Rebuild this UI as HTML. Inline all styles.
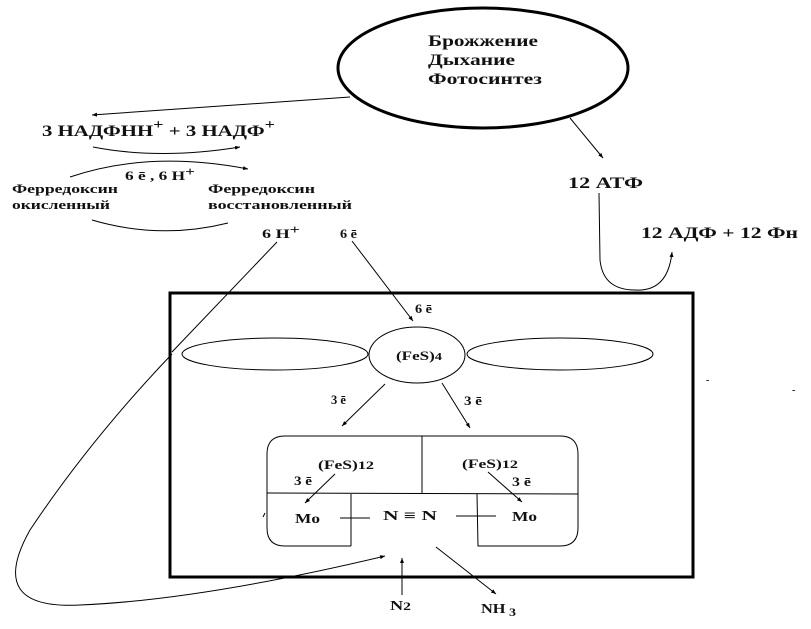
<!DOCTYPE html>
<html><head><meta charset="utf-8"><style>
html,body{margin:0;padding:0;background:#fff;width:811px;height:629px;overflow:hidden}
svg{display:block}
text{font-family:"Liberation Serif",serif;font-weight:bold;fill:#111}
</style></head><body>
<svg width="811" height="629" viewBox="0 0 811 629" xmlns="http://www.w3.org/2000/svg">
<defs><marker id="a" markerWidth="6" markerHeight="6" refX="5" refY="3" orient="auto"><path d="M0,1 L5,3 L0,5 z" fill="#000"/></marker></defs>
<g fill="none" stroke="#000" stroke-width="1">
<ellipse cx="483" cy="68" rx="145" ry="60" stroke-width="3"/>
<line x1="350" y1="97" x2="92" y2="115" marker-end="url(#a)"/>
<line x1="570" y1="118" x2="603" y2="158" marker-end="url(#a)"/>
<path d="M93,147 Q160,160 240,147" marker-end="url(#a)"/>
<path d="M70,177 Q150,150 248,169" marker-end="url(#a)"/>
<path d="M228,223 Q160,240 92,220"/>
<path d="M599,193 L600,260 Q603,290 635,290 Q668,292 672,252" marker-end="url(#a)"/>
<rect x="170" y="293" width="523" height="284" stroke-width="3"/>
<line x1="277" y1="242" x2="172" y2="352"/>
<line x1="352" y1="241" x2="413" y2="321" marker-end="url(#a)"/>
<ellipse cx="275" cy="354" rx="93" ry="16"/>
<ellipse cx="417" cy="355" rx="48" ry="28"/>
<ellipse cx="560" cy="354" rx="93" ry="16"/>
<line x1="385" y1="384" x2="342" y2="426" marker-end="url(#a)"/>
<line x1="442" y1="383" x2="470" y2="428" marker-end="url(#a)"/>
<path d="M351,546 L285,546 Q267,546 267,528 L267,454 Q267,436 285,436 L560,436 Q578,436 578,454 L578,528 Q578,546 560,546 L478,546 L477,494"/>
<line x1="351" y1="494" x2="351" y2="546"/>
<line x1="267" y1="493" x2="578" y2="494"/>
<line x1="422" y1="436" x2="422" y2="493"/>
<line x1="340" y1="518" x2="370" y2="518"/>
<line x1="456" y1="516" x2="496" y2="516"/>
<line x1="335" y1="474" x2="305" y2="503" marker-end="url(#a)"/>
<line x1="488" y1="472" x2="522" y2="502" marker-end="url(#a)"/>
<line x1="402" y1="595" x2="402" y2="558" marker-end="url(#a)"/>
<line x1="436" y1="547" x2="496" y2="594" marker-end="url(#a)"/>
<path d="M172,354 Q90,440 30,530 Q-15,610 80,605 Q200,600 385,556" marker-end="url(#a)"/>
<line x1="265" y1="513" x2="263" y2="517"/>
</g>
<text x="428" y="46" font-size="16" textLength="110" lengthAdjust="spacingAndGlyphs">Брожжение</text>
<text x="428" y="65" font-size="16" textLength="87" lengthAdjust="spacingAndGlyphs">Дыхание</text>
<text x="428" y="84" font-size="16" textLength="114" lengthAdjust="spacingAndGlyphs">Фотосинтез</text>
<text x="42" y="136" font-size="16" textLength="233" lengthAdjust="spacingAndGlyphs">3 НАДФНН<tspan dy="-7" font-size="14">+</tspan><tspan dy="7"> +  3 НАДФ</tspan><tspan dy="-7" font-size="14">+</tspan></text>
<text x="125" y="180" font-size="13" textLength="70" lengthAdjust="spacingAndGlyphs">6 ē , 6 Н<tspan dy="-4">+</tspan></text>
<text x="12" y="193" font-size="13" textLength="106" lengthAdjust="spacingAndGlyphs">Ферредоксин</text>
<text x="12" y="209" font-size="13" textLength="98" lengthAdjust="spacingAndGlyphs">окисленный</text>
<text x="208" y="193" font-size="13" textLength="107" lengthAdjust="spacingAndGlyphs">Ферредоксин</text>
<text x="208" y="209" font-size="13" textLength="144" lengthAdjust="spacingAndGlyphs">восстановленный</text>
<text x="262" y="238" font-size="13" textLength="38" lengthAdjust="spacingAndGlyphs">6 Н<tspan dy="-4">+</tspan></text>
<text x="340" y="238" font-size="13" textLength="17" lengthAdjust="spacingAndGlyphs">6 ē</text>
<text x="568" y="188" font-size="16" textLength="75" lengthAdjust="spacingAndGlyphs">12 АТФ</text>
<text x="641" y="238" font-size="16" textLength="157" lengthAdjust="spacingAndGlyphs">12 АДФ + 12 Фн</text>
<text x="415" y="313" font-size="13" textLength="17" lengthAdjust="spacingAndGlyphs">6 ē</text>
<text x="396" y="360" font-size="13" textLength="46" lengthAdjust="spacingAndGlyphs">(FeS)<tspan font-size="11">4</tspan></text>
<text x="331" y="404" font-size="13" textLength="15" lengthAdjust="spacingAndGlyphs">3 ē</text>
<text x="464" y="405" font-size="13" textLength="18" lengthAdjust="spacingAndGlyphs">3 ē</text>
<text x="318" y="469" font-size="13" textLength="56" lengthAdjust="spacingAndGlyphs">(FeS)<tspan font-size="12">12</tspan></text>
<text x="294" y="485" font-size="13" textLength="18" lengthAdjust="spacingAndGlyphs">3 ē</text>
<text x="462" y="468" font-size="13" textLength="56" lengthAdjust="spacingAndGlyphs">(FeS)<tspan font-size="12">12</tspan></text>
<text x="512" y="486" font-size="13" textLength="19" lengthAdjust="spacingAndGlyphs">3 ē</text>
<text x="295" y="523" font-size="14" textLength="25" lengthAdjust="spacingAndGlyphs">Mo</text>
<text x="383" y="520" font-size="14" textLength="54" lengthAdjust="spacingAndGlyphs">N ≡ N</text>
<text x="512" y="521" font-size="14" textLength="25" lengthAdjust="spacingAndGlyphs">Mo</text>
<text x="390" y="610" font-size="14" textLength="21" lengthAdjust="spacingAndGlyphs">N<tspan font-size="12">2</tspan></text>
<text x="481" y="613" font-size="14" textLength="35" lengthAdjust="spacingAndGlyphs">NH<tspan dy="3" font-size="12"> 3</tspan></text>
<text x="706" y="383" font-size="10">-</text>
<text x="792" y="393" font-size="10">-</text>
</svg>
</body></html>
